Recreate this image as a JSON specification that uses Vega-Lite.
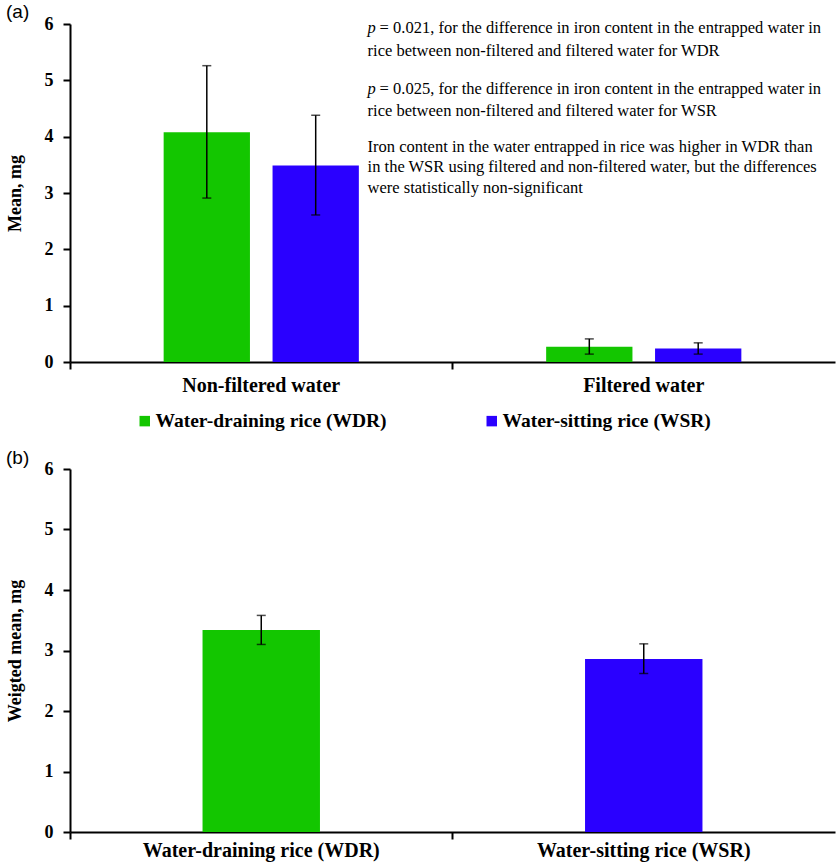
{
  "$schema": "https://vega.github.io/schema/vega-lite/v6.json",
  "padding": {"left": 6, "top": 3, "right": 2, "bottom": 2},
  "background": "white",
  "spacing": 18,
  "config": {
    "view": {"stroke": null},
    "axis": {
      "domainColor": "black", "domainWidth": 2, "tickColor": "black", "tickWidth": 2,
      "labelFont": "Liberation Serif", "labelFontWeight": "bold", "labelFontSize": 18, "labelColor": "black",
      "titleFont": "Liberation Serif", "titleFontWeight": "bold", "titleFontSize": 18, "titleColor": "black",
      "grid": false, "labelLimit": 400
    },
    "axisX": {"labelFontSize": 20},
    "title": {"font": "Liberation Sans", "fontSize": 19, "fontWeight": "normal", "color": "black", "anchor": "start", "frame": "bounds"}
  },
  "resolve": {"scale": {"color": "independent", "x": "independent", "y": "independent"}},
  "vconcat": [
    {
      "title": {"text": "(a)", "offset": -7},
      "width": 765,
      "height": 338,
      "layer": [
        {
          "data": {"name": "a"},
          "mark": {"type": "bar"},
          "encoding": {
            "x": {"field": "water", "type": "nominal", "sort": ["Non-filtered water", "Filtered water"],
                  "scale": {"paddingInner": 0, "paddingOuter": 0},
                  "axis": {"title": null, "labelAngle": 0, "bandPosition": 0, "tickSize": 7, "labelPadding": 6}},
            "xOffset": {"field": "rice", "type": "nominal", "sort": ["Water-draining rice (WDR)", "Water-sitting rice (WSR)"],
                        "scale": {"paddingInner": 0.2075, "paddingOuter": 0.86}},
            "y": {"field": "mean", "type": "quantitative", "scale": {"domain": [0, 6], "nice": false},
                  "axis": {"title": "Mean, mg", "values": [0, 1, 2, 3, 4, 5, 6], "format": "d", "tickSize": 7, "labelPadding": 10, "titlePadding": 20}},
            "color": {"field": "rice", "type": "nominal",
                      "scale": {"domain": ["Water-draining rice (WDR)", "Water-sitting rice (WSR)"], "range": ["#13c600", "#2a00ff"]},
                      "legend": {"title": null, "orient": "none", "legendX": 65, "legendY": 387, "direction": "horizontal",
                                 "symbolType": "square", "symbolSize": 110, "symbolStrokeWidth": 0, "symbolOpacity": 1,
                                 "labelFont": "Liberation Serif", "labelFontWeight": "bold", "labelFontSize": 19.5, "labelColor": "black",
                                 "labelOffset": 1, "columnPadding": 95, "labelLimit": 400}}
          }
        },
        {
          "data": {"name": "a"},
          "mark": {"type": "rule", "color": "black", "strokeWidth": 1.5},
          "encoding": {
            "x": {"field": "water", "type": "nominal", "sort": ["Non-filtered water", "Filtered water"]},
            "xOffset": {"field": "rice", "type": "nominal", "sort": ["Water-draining rice (WDR)", "Water-sitting rice (WSR)"]},
            "y": {"field": "lo", "type": "quantitative"}, "y2": {"field": "hi"}}
        },
        {
          "data": {"name": "a"},
          "mark": {"type": "tick", "color": "black", "thickness": 1.5, "size": 9},
          "encoding": {
            "x": {"field": "water", "type": "nominal", "sort": ["Non-filtered water", "Filtered water"]},
            "xOffset": {"field": "rice", "type": "nominal", "sort": ["Water-draining rice (WDR)", "Water-sitting rice (WSR)"]},
            "y": {"field": "lo", "type": "quantitative"}}
        },
        {
          "data": {"name": "a"},
          "mark": {"type": "tick", "color": "black", "thickness": 1.5, "size": 9},
          "encoding": {
            "x": {"field": "water", "type": "nominal", "sort": ["Non-filtered water", "Filtered water"]},
            "xOffset": {"field": "rice", "type": "nominal", "sort": ["Water-draining rice (WDR)", "Water-sitting rice (WSR)"]},
            "y": {"field": "hi", "type": "quantitative"}}
        },
        {
          "data": {"name": "note"},
          "mark": {"type": "text", "font": "Liberation Serif", "fontSize": 16.5, "fontStyle": "italic", "align": "left", "baseline": "middle", "color": "black"},
          "encoding": {"x": {"datum": "Non-filtered water", "bandPosition": 0.778}, "y": {"datum": 5.927}, "text": {"value": "p"}}
        },
        {
          "data": {"name": "note"},
          "mark": {"type": "text", "font": "Liberation Serif", "fontSize": 16.5, "align": "left", "baseline": "middle", "color": "black", "dx": 12},
          "encoding": {"x": {"datum": "Non-filtered water", "bandPosition": 0.778}, "y": {"datum": 5.927}, "text": {"value": "= 0.021, for the difference in iron content in the entrapped water in"}}
        },
        {
          "data": {"name": "note"},
          "mark": {"type": "text", "font": "Liberation Serif", "fontSize": 16.5, "align": "left", "baseline": "middle", "color": "black"},
          "encoding": {"x": {"datum": "Non-filtered water", "bandPosition": 0.778}, "y": {"datum": 5.52}, "text": {"value": "rice between non-filtered and filtered water for WDR"}}
        },
        {
          "data": {"name": "note"},
          "mark": {"type": "text", "font": "Liberation Serif", "fontSize": 16.5, "fontStyle": "italic", "align": "left", "baseline": "middle", "color": "black"},
          "encoding": {"x": {"datum": "Non-filtered water", "bandPosition": 0.778}, "y": {"datum": 4.84}, "text": {"value": "p"}}
        },
        {
          "data": {"name": "note"},
          "mark": {"type": "text", "font": "Liberation Serif", "fontSize": 16.5, "align": "left", "baseline": "middle", "color": "black", "dx": 12},
          "encoding": {"x": {"datum": "Non-filtered water", "bandPosition": 0.778}, "y": {"datum": 4.84}, "text": {"value": "= 0.025, for the difference in iron content in the entrapped water in"}}
        },
        {
          "data": {"name": "note"},
          "mark": {"type": "text", "font": "Liberation Serif", "fontSize": 16.5, "align": "left", "baseline": "middle", "color": "black"},
          "encoding": {"x": {"datum": "Non-filtered water", "bandPosition": 0.778}, "y": {"datum": 4.46}, "text": {"value": "rice between non-filtered and filtered water for WSR"}}
        },
        {
          "data": {"name": "note"},
          "mark": {"type": "text", "font": "Liberation Serif", "fontSize": 16.5, "align": "left", "baseline": "middle", "color": "black", "lineBreak": "\n", "lineHeight": 20.7},
          "encoding": {"x": {"datum": "Non-filtered water", "bandPosition": 0.778}, "y": {"datum": 3.824},
                       "text": {"value": "Iron content in the water entrapped in rice was higher in WDR than\nin the WSR using filtered and non-filtered water, but the differences\nwere statistically non-significant"}}
        }
      ]
    },
    {
      "title": {"text": "(b)", "offset": -8},
      "width": 765,
      "height": 363,
      "data": {"name": "b"},
      "encoding": {
        "x": {"field": "rice", "type": "nominal", "sort": ["Water-draining rice (WDR)", "Water-sitting rice (WSR)"],
              "scale": {"paddingInner": 0, "paddingOuter": 0},
              "axis": {"title": null, "labelAngle": 0, "bandPosition": 0, "tickSize": 7, "labelPadding": 1}}
      },
      "layer": [
        {
          "mark": {"type": "bar", "width": {"band": 0.307}},
          "encoding": {
            "y": {"field": "mean", "type": "quantitative", "scale": {"domain": [0, 6], "nice": false},
                  "axis": {"title": "Weigted mean, mg", "values": [0, 1, 2, 3, 4, 5, 6], "format": "d", "tickSize": 7, "labelPadding": 10, "titlePadding": 20}},
            "color": {"field": "rice", "type": "nominal",
                      "scale": {"domain": ["Water-draining rice (WDR)", "Water-sitting rice (WSR)"], "range": ["#13c600", "#2a00ff"]},
                      "legend": null}
          }
        },
        {
          "mark": {"type": "rule", "color": "black", "strokeWidth": 1.5},
          "encoding": {"y": {"field": "lo", "type": "quantitative"}, "y2": {"field": "hi"}}
        },
        {
          "mark": {"type": "tick", "color": "black", "thickness": 1.5, "size": 9},
          "encoding": {"y": {"field": "lo", "type": "quantitative"}}
        },
        {
          "mark": {"type": "tick", "color": "black", "thickness": 1.5, "size": 9},
          "encoding": {"y": {"field": "hi", "type": "quantitative"}}
        }
      ]
    }
  ],
  "datasets": {
    "a": [
      {"water": "Non-filtered water", "rice": "Water-draining rice (WDR)", "mean": 4.08, "lo": 2.91, "hi": 5.26},
      {"water": "Non-filtered water", "rice": "Water-sitting rice (WSR)", "mean": 3.49, "lo": 2.61, "hi": 4.38},
      {"water": "Filtered water", "rice": "Water-draining rice (WDR)", "mean": 0.27, "lo": 0.14, "hi": 0.41},
      {"water": "Filtered water", "rice": "Water-sitting rice (WSR)", "mean": 0.24, "lo": 0.14, "hi": 0.34}
    ],
    "b": [
      {"rice": "Water-draining rice (WDR)", "mean": 3.34, "lo": 3.10, "hi": 3.58},
      {"rice": "Water-sitting rice (WSR)", "mean": 2.86, "lo": 2.62, "hi": 3.11}
    ],
    "note": [{"panel": "a"}]
  }
}
